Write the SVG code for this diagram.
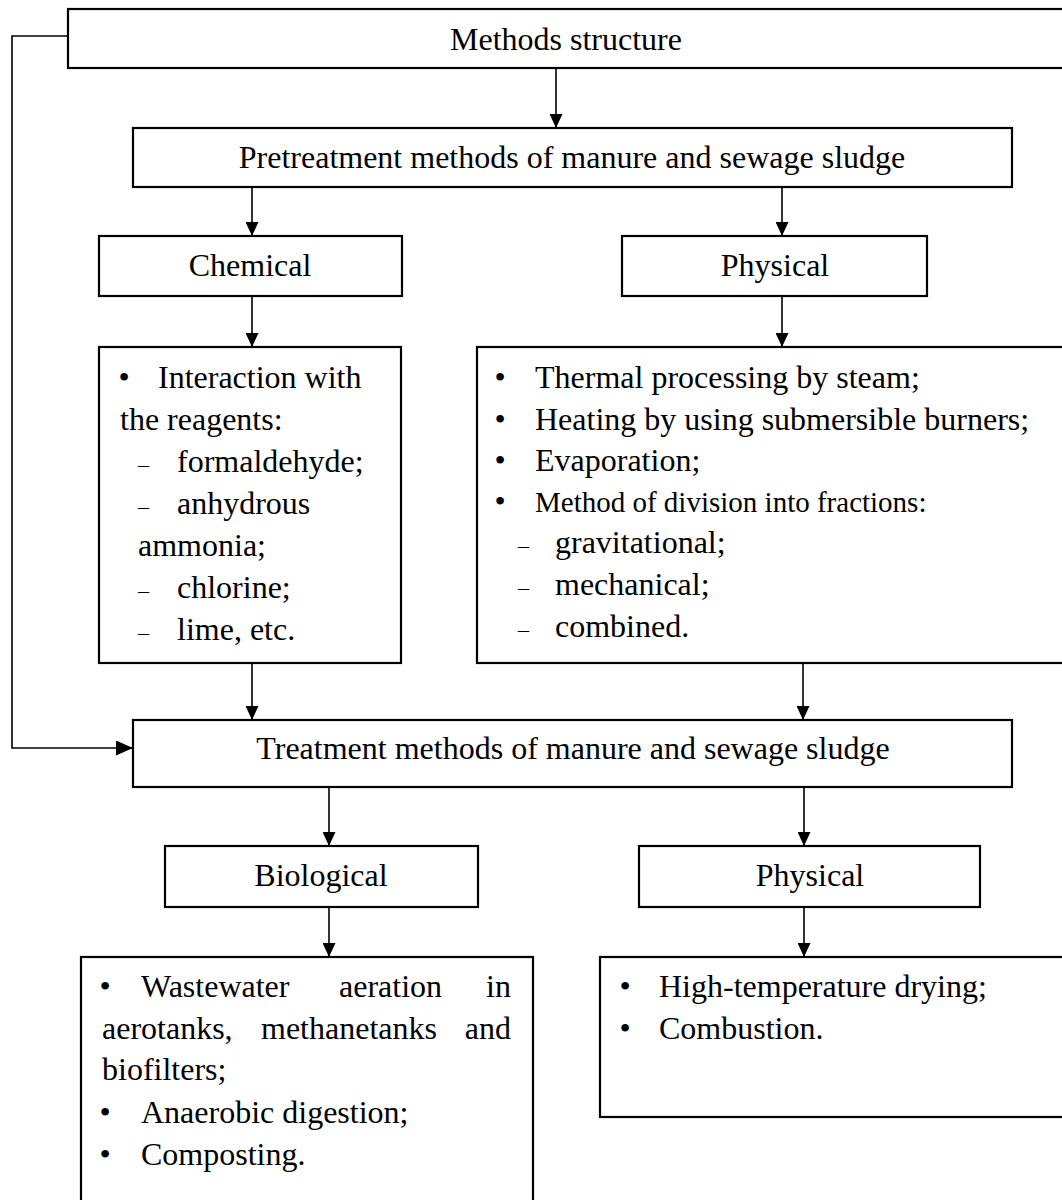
<svg xmlns="http://www.w3.org/2000/svg" width="1062" height="1200" viewBox="0 0 1062 1200">
<style>
.box{fill:#fff;stroke:#000;stroke-width:2.2}
.t{font-family:"Liberation Serif","Times New Roman",serif;font-size:32px;fill:#000}
.c{text-anchor:middle}
.d{font-size:22px}
.e{text-anchor:end}
.con{fill:none;stroke:#000;stroke-width:1.6}
</style>
<defs>
<marker id="ah" viewBox="0 0 14 13" refX="14" refY="6.5" markerWidth="14" markerHeight="13" orient="auto" markerUnits="userSpaceOnUse"><path d="M0,0 L14,6.5 L0,13 z" fill="#000"/></marker>
<marker id="ah2" viewBox="0 0 17 15" refX="17" refY="7.5" markerWidth="17" markerHeight="15" orient="auto" markerUnits="userSpaceOnUse"><path d="M0,0 L17,7.5 L0,15 z" fill="#000"/></marker>
</defs>
<rect width="1062" height="1200" fill="#fff"/>
<g id="connectors">
<path class="con" d="M556,68 V128" marker-end="url(#ah)"/>
<path class="con" d="M252,187 V236" marker-end="url(#ah)"/>
<path class="con" d="M782,187 V236" marker-end="url(#ah)"/>
<path class="con" d="M252,296 V347" marker-end="url(#ah)"/>
<path class="con" d="M782,296 V347" marker-end="url(#ah)"/>
<path class="con" d="M252,663 V720" marker-end="url(#ah)"/>
<path class="con" d="M803,663 V720" marker-end="url(#ah)"/>
<path class="con" d="M68,36 H12 V748 H133" marker-end="url(#ah2)"/>
<path class="con" d="M329,787 V846" marker-end="url(#ah)"/>
<path class="con" d="M804,787 V846" marker-end="url(#ah)"/>
<path class="con" d="M329,907 V957" marker-end="url(#ah)"/>
<path class="con" d="M804,907 V957" marker-end="url(#ah)"/>
</g>
<g id="methods">
<rect class="box" x="68" y="9" width="1010" height="59"/>
<text class="t c" x="566" y="50">Methods structure</text>
</g>
<g id="pretreatment">
<rect class="box" x="133" y="128" width="879" height="59"/>
<text class="t c" x="572" y="168">Pretreatment methods of manure and sewage sludge</text>
</g>
<g id="chemical">
<rect class="box" x="99" y="236" width="303" height="60"/>
<text class="t c" x="250" y="276">Chemical</text>
</g>
<g id="physical-pre">
<rect class="box" x="622" y="236" width="305" height="60"/>
<text class="t c" x="775" y="276">Physical</text>
</g>
<g id="chemical-list">
<rect class="box" x="99" y="347" width="302" height="316"/>
<text class="t c" x="124" y="388">•</text>
<text class="t" x="158" y="388">Interaction with</text>
<text class="t" x="120" y="430">the reagents:</text>
<text class="t d" x="138" y="472">–</text>
<text class="t" x="177" y="472">formaldehyde;</text>
<text class="t d" x="138" y="514">–</text>
<text class="t" x="177" y="514">anhydrous</text>
<text class="t" x="138" y="556">ammonia;</text>
<text class="t d" x="138" y="598">–</text>
<text class="t" x="177" y="598">chlorine;</text>
<text class="t d" x="138" y="640">–</text>
<text class="t" x="177" y="640">lime, etc.</text>
</g>
<g id="physical-list">
<rect class="box" x="477" y="347" width="600" height="316"/>
<text class="t c" x="500" y="388">•</text>
<text class="t" x="535" y="388">Thermal processing by steam;</text>
<text class="t c" x="500" y="430">•</text>
<text class="t" x="535" y="430">Heating by using submersible burners;</text>
<text class="t c" x="500" y="471">•</text>
<text class="t" x="535" y="471">Evaporation;</text>
<text class="t c" x="500" y="512">•</text>
<text class="t" x="535" y="512" style="font-size:29px">Method of division into fractions:</text>
<text class="t d" x="518" y="553">–</text>
<text class="t" x="555" y="553">gravitational;</text>
<text class="t d" x="518" y="595">–</text>
<text class="t" x="555" y="595">mechanical;</text>
<text class="t d" x="518" y="637">–</text>
<text class="t" x="555" y="637">combined.</text>
</g>
<g id="treatment">
<rect class="box" x="133" y="720" width="879" height="67"/>
<text class="t c" x="573" y="759">Treatment methods of manure and sewage sludge</text>
</g>
<g id="biological">
<rect class="box" x="165" y="846" width="313" height="61"/>
<text class="t c" x="321" y="886">Biological</text>
</g>
<g id="physical-treat">
<rect class="box" x="639" y="846" width="341" height="61"/>
<text class="t c" x="810" y="886">Physical</text>
</g>
<g id="biological-list">
<rect class="box" x="81" y="957" width="452" height="300"/>
<text class="t c" x="105" y="997">•</text>
<text class="t" x="141" y="997">Wastewater</text>
<text class="t" x="339" y="997">aeration</text>
<text class="t e" x="511" y="997">in</text>
<text class="t" x="102" y="1039">aerotanks,</text>
<text class="t" x="261" y="1039">methanetanks</text>
<text class="t e" x="511" y="1039">and</text>
<text class="t" x="102" y="1080">biofilters;</text>
<text class="t c" x="105" y="1123">•</text>
<text class="t" x="141" y="1123">Anaerobic digestion;</text>
<text class="t c" x="105" y="1165">•</text>
<text class="t" x="141" y="1165">Composting.</text>
</g>
<g id="physical-treat-list">
<rect class="box" x="600" y="957" width="500" height="160"/>
<text class="t c" x="625" y="997">•</text>
<text class="t" x="659" y="997">High-temperature drying;</text>
<text class="t c" x="625" y="1039">•</text>
<text class="t" x="659" y="1039">Combustion.</text>
</g>
</svg>
